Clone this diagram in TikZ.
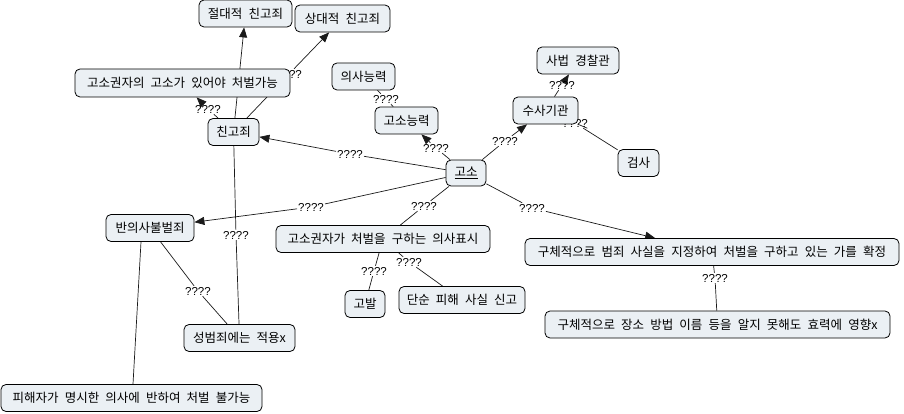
\documentclass[tikz,border=0pt]{standalone}
\usepackage{fontspec}
\usepackage{xcolor}
\usepackage{tikz}
\usetikzlibrary{arrows.meta,backgrounds}
\newfontfamily\kr[WordSpace=2.2]{Noto Sans CJK KR}
\newfontfamily\lbfont{Liberation Sans}
\definecolor{conceptfill}{HTML}{EBF0F4}
\definecolor{edgegray}{HTML}{1A1A1A}
\tikzset{
  concept/.style={rectangle,rounded corners=5pt,draw=black,line width=0.8pt,fill=conceptfill,minimum height=27pt,inner sep=2pt,align=center,font=\kr\fontsize{12.5}{14}\selectfont},
  linkph/.style={inner sep=1pt,font=\lbfont\fontsize{11.5}{12}\selectfont},
  arrow/.style={-{Triangle[length=10pt,width=8pt]},line width=0.7pt,draw=edgegray},
  line/.style={line width=0.7pt,draw=edgegray}
}

\begin{document}
\begin{tikzpicture}[x=1pt,y=-1pt]
  \useasboundingbox (0,0) rectangle (904,414);

  \node[linkph] (l1) at (350,154) {????};
  \node[linkph] (l2) at (311,207) {????};
  \node[linkph] (l3) at (436,148) {????};
  \node[linkph] (l4) at (386,99) {????};
  \node[linkph] (l5) at (505,141) {????};
  \node[linkph] (l6) at (562,85) {????};
  \node[linkph] (l7) at (575,123) {????};
  \node[linkph] (l8) at (424,206) {????};
  \node[linkph] (l9) at (532,208) {????};
  \node[linkph] (l10) at (715,278) {????};
  \node[linkph] (l11) at (374,271) {????};
  \node[linkph] (l12) at (409,262) {????};
  \node[linkph] (l13) at (198,291) {????};
  \node[linkph] (l14) at (236,235) {????};
  \node[linkph] (l15) at (208,109) {????};
  \node[linkph] (l16) at (289,74) {????};

  \node[concept,minimum width=93pt] (absolute) at (245.5,13.5) {절대적 친고죄};
  \node[concept,minimum width=95pt] (relative) at (342.5,18.5) {상대적 친고죄};
  \node[concept,minimum width=215pt,minimum height=28pt] (gosokwon) at (182.5,83) {고소권자의 고소가 있어야 처벌가능};
  \node[concept,minimum width=63pt] (uisa) at (363.5,76.5) {의사능력};
  \node[concept,minimum width=63pt] (gosoneung) at (406.5,120.5) {고소능력};
  \node[concept,minimum width=82pt] (sabeop) at (578,60.5) {사법 경찰관};
  \node[concept,minimum width=65pt] (susa) at (545.5,110.5) {수사기관};
  \node[concept,minimum width=41pt] (geomsa) at (638.5,163) {검사};
  \node[concept,minimum width=51pt] (chingo) at (233.5,132) {친고죄};
  \node[concept,minimum width=40pt,minimum height=26pt] (goso) at (466,173) {\underline{고소}};
  \node[concept,minimum width=88pt] (banui) at (150,228) {반의사불벌죄};
  \node[concept,minimum width=214pt] (uisapyo) at (383,239) {고소권자가 처벌을 구하는 의사표시};
  \node[concept,minimum width=40pt] (gobal) at (365,304) {고발};
  \node[concept,minimum width=126pt] (dansun) at (462,300) {단순 피해 사실 신고};
  \node[concept,minimum width=374pt] (hwakjeong) at (712,252) {구체적으로 범죄 사실을 지정하여 처벌을 구하고 있는 가를 확정};
  \node[concept,minimum width=345pt] (jangso) at (717.5,324.5) {구체적으로 장소 방법 이름 등을 알지 못해도 효력에 영향x};
  \node[concept,minimum width=111pt] (seong) at (239.5,338) {성범죄에는 적용x};
  \node[concept,minimum width=261pt] (pihae) at (131.5,398) {피해자가 명시한 의사에 반하여 처벌 불가능};

  \begin{pgfonlayer}{background}
    \draw[arrow] (goso) -- (l1) -- (chingo);
    \draw[arrow] (goso) -- (l2) -- (banui);
    \draw[arrow] (goso) -- (l3) -- (gosoneung);
    \draw[line] (uisa) -- (l4) -- (gosoneung);
    \draw[arrow] (goso) -- (l5) -- (susa);
    \draw[arrow] (susa) -- (l6) -- (sabeop);
    \draw[line] (geomsa) -- (l7) -- (susa);
    \draw[line] (goso) -- (l8) -- (uisapyo);
    \draw[arrow] (goso) -- (l9) -- (hwakjeong);
    \draw[line] (hwakjeong) -- (l10) -- (jangso);
    \draw[line] (uisapyo) -- (l11) -- (gobal);
    \draw[line] (uisapyo) -- (l12) -- (dansun);
    \draw[line] (banui) -- (l13) -- (seong);
    \draw[line] (chingo) -- (l14) -- (seong);
    \draw[arrow] (chingo) -- (l15) -- (gosokwon);
    \draw[arrow] (chingo) -- (l16) -- (relative);
    \draw[arrow] (chingo) -- (absolute);
    \draw[line] ([xshift=-9pt]banui.south) -- ([xshift=1.5pt]pihae.north);
  \end{pgfonlayer}
\end{tikzpicture}
\end{document}
